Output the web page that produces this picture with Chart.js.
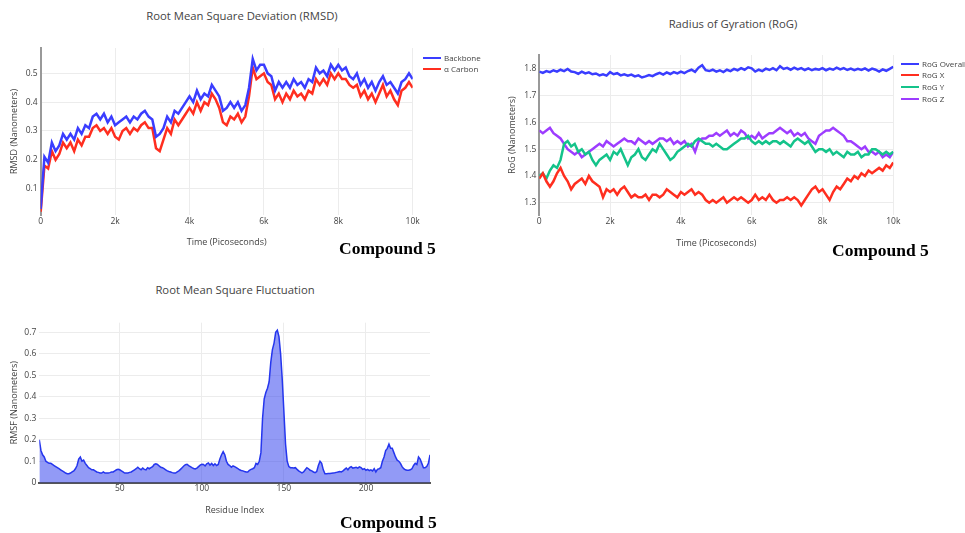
<!DOCTYPE html>
<html>
<head>
<meta charset="utf-8">
<script src="https://cdn.jsdelivr.net/npm/chart.js@4.4.1/dist/chart.umd.min.js"></script>
<style>
  body { margin:0; background:#fff; }
  #page { position:relative; width:965px; height:533px; font-family:'Open Sans', sans-serif; color:#444; }
  canvas { position:absolute; }
  .title { position:absolute; font-size:11.3px; white-space:nowrap; transform:translate(-50%,-50%); }
  .compound { position:absolute; font-family:'Liberation Serif','Times New Roman',serif; font-weight:bold; font-size:17.5px; color:#000; white-space:nowrap; transform:translateY(-50%); }
  .legend { position:absolute; font-size:8px; }
  .legend div { position:relative; height:11.7px; line-height:11.7px; padding-left:21px; white-space:nowrap; }
  .legend span { position:absolute; left:0; top:5px; width:18px; height:2px; }
</style>
</head>
<body>
<div id="page">
  <div class="title" style="left:242px;top:14.5px">Root Mean Square Deviation (RMSD)</div>
  <div class="title" style="left:733px;top:22.5px">Radius of Gyration (RoG)</div>
  <div class="title" style="left:235px;top:289px">Root Mean Square Fluctuation</div>

  <canvas id="chart-rmsd" width="490" height="260" style="left:0;top:0;width:490px;height:260px"></canvas>
  <canvas id="chart-rog" width="475" height="260" style="left:490px;top:0;width:475px;height:260px"></canvas>
  <canvas id="chart-rmsf" width="490" height="263" style="left:0;top:270px;width:490px;height:263px"></canvas>

  <div class="legend" id="legend-rmsd" style="left:423px;top:51.5px"></div>
  <div class="legend" id="legend-rog" style="left:901px;top:57.7px"></div>

  <div class="compound" style="left:339px;top:248px">Compound 5</div>
  <div class="compound" style="left:832px;top:250px">Compound 5</div>
  <div class="compound" style="left:340px;top:521.5px">Compound 5</div>
</div>
<script>
// ================================================
// DATA
// ================================================

// sampling of the trajectory (ps between frames)
const timeStep = 100;
const timeTicks = [0, 2000, 4000, 6000, 8000, 10000];
const timeTickLabels = ['0', '2k', '4k', '6k', '8k', '10k'];

// RMSD (nm), one value every 100 ps from 0 to 10k
const rmsdBackbone = [
  0.03,0.21,0.19,0.26,0.23,0.25,0.29,0.27,0.29,0.27,
  0.31,0.29,0.32,0.31,0.35,0.36,0.34,0.36,0.33,0.35,
  0.32,0.33,0.34,0.35,0.33,0.35,0.34,0.36,0.37,0.35,
  0.34,0.28,0.29,0.31,0.35,0.33,0.37,0.36,0.38,0.40,
  0.42,0.40,0.44,0.41,0.43,0.42,0.46,0.44,0.42,0.37,
  0.38,0.40,0.38,0.40,0.37,0.39,0.45,0.55,0.51,0.53,
  0.53,0.50,0.49,0.44,0.47,0.45,0.47,0.45,0.48,0.46,
  0.47,0.45,0.48,0.47,0.52,0.50,0.51,0.49,0.53,0.51,
  0.53,0.51,0.52,0.49,0.48,0.50,0.46,0.48,0.45,0.47,
  0.44,0.47,0.49,0.46,0.47,0.45,0.43,0.47,0.48,0.50,0.48
];
const rmsdCarbon = [
  0.02,0.18,0.17,0.23,0.20,0.22,0.26,0.24,0.26,0.23,
  0.27,0.25,0.28,0.28,0.31,0.32,0.30,0.31,0.29,0.31,
  0.28,0.27,0.30,0.31,0.29,0.31,0.30,0.32,0.33,0.31,
  0.31,0.24,0.23,0.27,0.31,0.29,0.34,0.32,0.34,0.36,
  0.38,0.36,0.40,0.37,0.40,0.39,0.43,0.41,0.38,0.33,
  0.32,0.35,0.34,0.36,0.33,0.35,0.42,0.52,0.48,0.49,
  0.50,0.47,0.46,0.41,0.43,0.40,0.43,0.41,0.44,0.42,
  0.43,0.41,0.44,0.43,0.48,0.46,0.48,0.46,0.50,0.48,
  0.50,0.48,0.48,0.46,0.45,0.46,0.42,0.44,0.41,0.43,
  0.40,0.43,0.46,0.42,0.44,0.41,0.39,0.44,0.45,0.47,0.45
];
const rmsdTicks = [0.1, 0.2, 0.3, 0.4, 0.5];
const rmsdTickLabels = ['0.1', '0.2', '0.3', '0.4', '0.5'];

// Radius of gyration (nm), one value every 100 ps
const rogOverall = [
  1.790,1.785,1.792,1.788,1.795,1.790,1.797,1.792,1.800,1.790,
  1.788,1.782,1.790,1.783,1.787,1.780,1.783,1.776,1.780,1.775,
  1.788,1.780,1.784,1.776,1.780,1.775,1.779,1.772,1.776,1.768,
  1.772,1.777,1.773,1.780,1.785,1.779,1.787,1.781,1.788,1.783,
  1.790,1.784,1.792,1.797,1.789,1.805,1.814,1.795,1.792,1.797,
  1.790,1.795,1.788,1.797,1.792,1.800,1.795,1.803,1.797,1.806,
  1.802,1.790,1.797,1.792,1.801,1.796,1.803,1.795,1.810,1.800,
  1.804,1.797,1.805,1.798,1.803,1.796,1.802,1.795,1.800,1.797,
  1.803,1.795,1.801,1.797,1.805,1.798,1.803,1.796,1.801,1.795,
  1.800,1.796,1.802,1.794,1.801,1.797,1.790,1.798,1.793,1.800,1.808
];
const rogX = [
  1.39,1.41,1.38,1.36,1.38,1.41,1.43,1.40,1.38,1.35,
  1.37,1.38,1.39,1.37,1.40,1.38,1.37,1.36,1.32,1.35,
  1.34,1.35,1.33,1.35,1.36,1.34,1.32,1.33,1.32,1.32,
  1.33,1.31,1.33,1.33,1.32,1.33,1.35,1.34,1.33,1.32,
  1.34,1.33,1.34,1.35,1.33,1.34,1.33,1.31,1.30,1.31,
  1.30,1.31,1.32,1.30,1.31,1.32,1.31,1.32,1.31,1.30,
  1.31,1.33,1.31,1.32,1.31,1.33,1.31,1.30,1.31,1.31,
  1.32,1.31,1.32,1.31,1.29,1.31,1.33,1.35,1.36,1.34,
  1.35,1.33,1.31,1.34,1.36,1.35,1.37,1.39,1.38,1.40,
  1.39,1.41,1.40,1.42,1.41,1.42,1.43,1.42,1.44,1.43,1.45
];
const rogY = [
  1.40,1.41,1.39,1.42,1.44,1.43,1.46,1.52,1.53,1.51,
  1.52,1.49,1.50,1.48,1.49,1.46,1.44,1.46,1.47,1.48,
  1.46,1.49,1.48,1.50,1.47,1.44,1.47,1.48,1.50,1.47,
  1.46,1.48,1.50,1.49,1.52,1.50,1.48,1.46,1.47,1.49,
  1.50,1.51,1.52,1.51,1.53,1.54,1.53,1.52,1.52,1.51,
  1.52,1.51,1.50,1.50,1.51,1.52,1.53,1.54,1.54,1.55,
  1.53,1.52,1.53,1.52,1.53,1.52,1.53,1.53,1.52,1.53,
  1.52,1.51,1.53,1.54,1.53,1.52,1.53,1.51,1.49,1.50,
  1.50,1.49,1.50,1.48,1.49,1.48,1.47,1.49,1.48,1.48,
  1.49,1.47,1.48,1.48,1.50,1.50,1.49,1.48,1.49,1.48,1.49
];
const rogZ = [
  1.57,1.56,1.57,1.58,1.56,1.55,1.54,1.52,1.50,1.49,
  1.48,1.49,1.47,1.48,1.49,1.50,1.51,1.52,1.51,1.53,
  1.52,1.51,1.52,1.53,1.54,1.53,1.53,1.52,1.54,1.53,
  1.52,1.53,1.52,1.53,1.54,1.54,1.53,1.54,1.52,1.53,
  1.52,1.53,1.51,1.52,1.49,1.53,1.54,1.54,1.55,1.55,
  1.56,1.55,1.56,1.57,1.55,1.56,1.55,1.57,1.56,1.54,
  1.55,1.54,1.56,1.54,1.55,1.56,1.56,1.57,1.58,1.57,
  1.56,1.57,1.55,1.56,1.55,1.56,1.54,1.53,1.52,1.55,
  1.56,1.57,1.57,1.58,1.57,1.56,1.55,1.53,1.53,1.52,
  1.51,1.50,1.51,1.49,1.49,1.48,1.49,1.47,1.48,1.47,1.49
];
const rogTicks = [1.3, 1.4, 1.5, 1.6, 1.7, 1.8];
const rogTickLabels = ['1.3', '1.4', '1.5', '1.6', '1.7', '1.8'];

// RMSF (nm) per residue, residues 1..239
const rmsfValues = [
  0.20,0.15,0.13,0.12,0.10,0.095,0.09,0.09,0.085,0.08,
  0.075,0.07,0.065,0.06,0.055,0.05,0.045,0.042,0.042,0.045,
  0.05,0.055,0.065,0.08,0.11,0.12,0.10,0.105,0.09,0.08,
  0.07,0.065,0.06,0.06,0.055,0.05,0.048,0.045,0.045,0.05,
  0.045,0.045,0.045,0.047,0.05,0.05,0.055,0.06,0.062,0.06,
  0.055,0.05,0.045,0.045,0.045,0.048,0.05,0.055,0.06,0.065,
  0.072,0.065,0.06,0.068,0.062,0.06,0.07,0.065,0.07,0.075,
  0.085,0.088,0.085,0.078,0.072,0.07,0.065,0.06,0.055,0.052,
  0.05,0.047,0.045,0.045,0.05,0.055,0.062,0.07,0.078,0.084,
  0.086,0.08,0.075,0.07,0.066,0.064,0.068,0.075,0.082,0.086,
  0.085,0.078,0.088,0.092,0.082,0.09,0.08,0.088,0.08,0.085,
  0.11,0.13,0.145,0.13,0.10,0.085,0.08,0.072,0.078,0.075,
  0.07,0.065,0.06,0.057,0.055,0.052,0.05,0.05,0.058,0.062,
  0.065,0.07,0.09,0.085,0.10,0.14,0.30,0.39,0.42,0.44,
  0.47,0.56,0.62,0.65,0.70,0.71,0.68,0.60,0.48,0.33,
  0.18,0.10,0.075,0.07,0.07,0.068,0.07,0.062,0.055,0.05,
  0.046,0.05,0.06,0.07,0.065,0.058,0.055,0.05,0.047,0.052,
  0.08,0.10,0.09,0.06,0.042,0.042,0.043,0.043,0.044,0.045,
  0.046,0.048,0.05,0.052,0.05,0.055,0.062,0.068,0.06,0.07,
  0.075,0.068,0.07,0.072,0.068,0.074,0.07,0.062,0.065,0.058,
  0.062,0.056,0.06,0.055,0.065,0.05,0.062,0.065,0.07,0.10,
  0.12,0.15,0.16,0.18,0.16,0.16,0.14,0.12,0.105,0.10,
  0.09,0.075,0.065,0.06,0.058,0.058,0.06,0.065,0.08,0.09,
  0.085,0.12,0.11,0.09,0.07,0.07,0.075,0.09,0.13
];
const residueTicks = [50, 100, 150, 200];
const residueTickLabels = ['50', '100', '150', '200'];
const rmsfTicks = [0, 0.1, 0.2, 0.3, 0.4, 0.5, 0.6, 0.7];
const rmsfTickLabels = ['0', '0.1', '0.2', '0.3', '0.4', '0.5', '0.6', '0.7'];

// ================================================
// STYLE
// ================================================
const C = {
  blue:   '#3a3dff',
  red:    '#ff2e1f',
  green:  '#14c38a',
  purple: '#9d3cff',
  fillLine: '#2536ee',
  fill:   'rgba(37,54,238,0.5)',
  text:   '#444444',
  grid:   '#ececec',
  axis:   '#999999',
};
const tickFont  = { family: 'Open Sans', size: 8.5 };
const titleFont = { family: 'Open Sans', size: 9 };

function timeSeries(values) {
  return values.map((y, i) => ({ x: i * timeStep, y }));
}

function lineSet(label, values, color) {
  return {
    label,
    data: timeSeries(values),
    borderColor: color,
    borderWidth: 2.5,
    pointRadius: 0,
    tension: 0,
    fill: false,
  };
}

function buildChart(id, datasets, o) {
  return new Chart(document.getElementById(id), {
    type: 'line',
    data: { datasets },
    options: {
      responsive: false,
      animation: false,
      events: [],
      layout: { padding: o.pad },
      plugins: { legend: { display: false }, tooltip: { enabled: false } },
      scales: {
        x: {
          type: 'linear', min: o.xMin, max: o.xMax,
          afterBuildTicks: s => { s.ticks = o.xTicks.map(v => ({ value: v })); },
          afterFit: s => { s.height = o.xHeight; },
          ticks: {
            autoSkip: false, maxRotation: 0, padding: 1,
            color: C.text, font: tickFont,
            callback: (v, i) => o.xLabels[i],
          },
          grid: { color: C.grid, drawTicks: false },
          border: o.xBorder ? { color: '#555', width: 2 } : { display: false },
          title: { display: true, text: o.xTitle, color: C.text, font: titleFont,
                   padding: { top: 0, bottom: o.xTitlePad } },
        },
        y: {
          type: 'linear', min: o.yMin, max: o.yMax,
          afterBuildTicks: s => { s.ticks = o.yTicks.map(v => ({ value: v })); },
          afterFit: s => { s.width = o.yWidth; },
          ticks: {
            autoSkip: false, padding: 3,
            color: C.text, font: tickFont,
            callback: (v, i) => o.yLabels[i],
          },
          grid: { color: C.grid, drawTicks: false },
          border: o.yBorder ? { color: C.axis, width: 2 } : { display: false },
          title: { display: true, text: o.yTitle, color: C.text, font: titleFont,
                   padding: { top: o.yTitlePad, bottom: 0 } },
        }
      }
    }
  });
}

function buildLegend(id, datasets) {
  const box = document.getElementById(id);
  datasets.forEach(d => {
    const row = document.createElement('div');
    const sw = document.createElement('span');
    sw.style.background = d.borderColor;
    row.appendChild(sw);
    row.appendChild(document.createTextNode(d.label));
    box.appendChild(row);
  });
}

// =============================================
// 1. RMSD
// =============================================
const rmsdSets = [
  lineSet('Backbone', rmsdBackbone, C.blue),
  lineSet('α Carbon', rmsdCarbon, C.red),
];
buildChart('chart-rmsd', rmsdSets, {
  pad: { left: 0, top: 48, right: 77.3, bottom: 0 },
  xMin: 0, xMax: 10000, xTicks: timeTicks, xLabels: timeTickLabels,
  yMin: 0.0085, yMax: 0.588, yTicks: rmsdTicks, yLabels: rmsdTickLabels,
  xHeight: 45, yWidth: 40.7, xTitlePad: 12.5, yTitlePad: 9,
  xTitle: 'Time (Picoseconds)', yTitle: 'RMSD (Nanometers)',
  yBorder: true, xBorder: false,
});
buildLegend('legend-rmsd', rmsdSets);

// =============================================
// 2. RADIUS OF GYRATION
// =============================================
const rogSets = [
  lineSet('RoG Overall', rogOverall, C.blue),
  lineSet('RoG X', rogX, C.red),
  lineSet('RoG Y', rogY, C.green),
  lineSet('RoG Z', rogZ, C.purple),
];
buildChart('chart-rog', rogSets, {
  pad: { left: 0, top: 55, right: 71.7, bottom: 0 },
  xMin: 0, xMax: 10000, xTicks: timeTicks, xLabels: timeTickLabels,
  yMin: 1.254, yMax: 1.852, yTicks: rogTicks, yLabels: rogTickLabels,
  xHeight: 45, yWidth: 49.3, xTitlePad: 11.5, yTitlePad: 17.5,
  xTitle: 'Time (Picoseconds)', yTitle: 'RoG (Nanometers)',
  yBorder: true, xBorder: false,
});
buildLegend('legend-rog', rogSets);

// =============================================
// 3. RMSF (filled to zero)
// =============================================
buildChart('chart-rmsf', [{
  label: 'RMSF',
  data: rmsfValues.map((y, i) => ({ x: i + 1, y })),
  borderColor: C.fillLine,
  backgroundColor: C.fill,
  borderWidth: 1.5,
  pointRadius: 0,
  tension: 0,
  fill: 'origin',
}], {
  pad: { left: 0, top: 52.7, right: 60, bottom: 0 },
  xMin: 1, xMax: 239, xTicks: residueTicks, xLabels: residueTickLabels,
  yMin: 0, yMax: 0.745, yTicks: rmsfTicks, yLabels: rmsfTickLabels,
  xHeight: 50.3, yWidth: 39.3, xTitlePad: 16.9, yTitlePad: 9.5,
  xTitle: 'Residue Index', yTitle: 'RMSF (Nanometers)',
  yBorder: false, xBorder: true,
});
</script>
</body>
</html>
